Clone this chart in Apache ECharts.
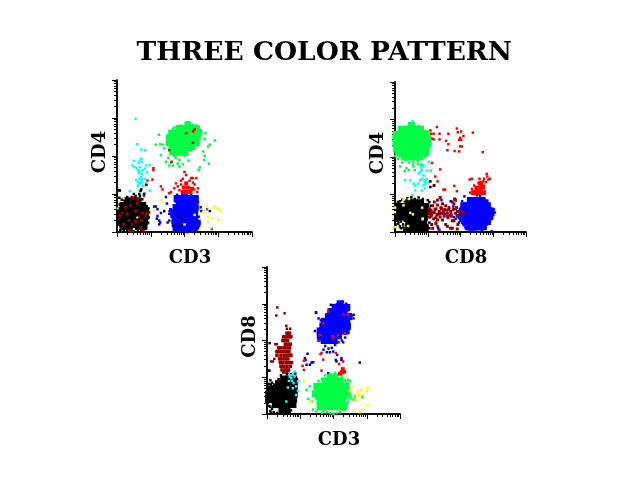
<!DOCTYPE html>
<html><head><meta charset="utf-8">
<style>html,body{margin:0;padding:0;background:#fff}#c{width:640px;height:480px}</style>
<script src="https://cdn.jsdelivr.net/npm/echarts@6/dist/echarts.min.js"></script>
</head><body><div id="c"></div>
<script>
// All values are log10 fluorescence (decades): [x, y]
const titleText="THREE COLOR PATTERN";
const p1BlackCore=[[.35,.15],[.5,.15],[.65,.15],[.2,.15],[.8,.15],[.25,.28],[.4,.28],[.55,.28],[.7,.28],[.12,.28],[.82,.28],[.2,.42],[.36,.42],[.5,.42],[.66,.42],[.76,.42],[.1,.42],[.85,.42],[.22,.56],[.38,.56],[.52,.56],[.68,.56],[.74,.56],[.12,.56],[.85,.56],[.32,.7],[.48,.7],[.62,.7],[.18,.7],[.76,.7],[.3,.82],[.5,.82],[.62,.82]];
const p1BlackEdge=[[.05,.6],[.08,.72],[.07,.9],[.06,.45],[.06,.3],[.1,.15],[.14,.85],[.2,.85],[.3,.92],[.44,.92],[.55,.95],[.68,.95],[.75,.86],[.8,.72],[.88,.68],[.93,.62],[.95,.52],[.94,.38],[.92,.24],[.85,.08],[.72,.05],[.62,.02],[.5,.01],[.4,.03],[.3,.05],[.2,.04],[.1,.06],[.03,.2],[.66,1.0],[.7,1.08],[.07,1.1],[.08,1.09],[.87,1.24],[.72,1.12],[.8,1.0],[.5,1.0],[1.87,.38],[1.7,.17],[1.4,.55],[1.88,.18]];
const p1DarkRed=[[.15,.5],[.25,.65],[.35,.3],[.45,.2],[.55,.55],[.65,.4],[.75,.5],[.85,.44],[.4,.7],[.6,.75],[.45,.04],[.38,.02],[.78,.02],[.62,.86],[.55,.28],[.3,.48],[.72,.3],[.08,.42],[.48,.9],[.9,.5],[.2,.2],[.7,.12]];
const p1YellowA=[[.6,.38],[.5,.08],[.2,.88],[.02,.62]];
const p1GreenCore=[[1.75,2.1],[1.9,2.1],[2,2.1],[1.65,2.12],[1.65,2.22],[1.8,2.22],[1.95,2.22],[2.08,2.22],[2.2,2.25],[1.6,2.35],[1.76,2.35],[1.92,2.35],[2.06,2.35],[2.2,2.35],[1.55,2.35],[2.35,2.35],[1.62,2.48],[1.8,2.48],[1.95,2.48],[2.1,2.48],[2.26,2.48],[1.55,2.48],[2.38,2.48],[1.75,2.6],[1.9,2.6],[2.05,2.6],[2.2,2.6],[2.32,2.6],[1.62,2.6],[2.42,2.62],[1.85,2.72],[1.95,2.72],[2.1,2.72],[2.25,2.72],[2.35,2.72],[2.1,2.82]];
const p1GreenEdge=[[1.5,2.45],[1.52,2.3],[1.55,2.2],[1.6,2.65],[1.65,2.7],[1.7,2.75],[1.8,2.78],[1.88,2.8],[2.1,2.88],[2.12,2.84],[2.25,2.82],[2.35,2.8],[2.42,2.75],[2.5,2.62],[2.45,2.55],[2.4,2.4],[2.38,2.28],[2.3,2.2],[2.2,2.15],[2.1,2.05],[2.0,2.0],[1.85,1.9],[1.75,1.95],[1.7,2.0],[1.6,2.05],[1.24,2.56],[1.15,2.3],[1.28,2.31],[1.35,2.3],[1.3,2.02],[1.45,1.85],[1.52,1.95],[1.6,1.82],[1.65,1.75],[1.85,1.72],[1.95,1.78],[2.12,1.88],[2.42,1.63],[2.45,1.7],[2.58,1.9],[2.6,2.0],[2.72,1.8],[2.7,2.25],[2.75,2.3],[2.9,2.41],[2.62,2.6],[2.55,2.12],[2.6,2.45],[1.55,1.75],[1.8,1.8],[1.4,2.2]];
const p1RedCore=[[1.95,1.05],[2.07,1.05],[2.18,1.05],[1.98,1.17],[2.1,1.17],[2.22,1.14],[2.05,1.28],[2.0,1.05]];
const p1RedEdge=[[1.85,1.1],[1.9,1.25],[1.9,1.35],[1.95,1.4],[2.05,1.5],[2.2,1.42],[2.25,1.42],[2.35,1.42],[2.3,1.25],[2.28,1.12],[2.4,1.15],[2.38,1.05],[2.15,1.35],[2.25,1.3],[2.0,1.58],[1.8,1.2],[1.75,1.28],[1.6,1.05],[1.7,1.15],[1.55,1.02],[1.08,1.68],[1.08,1.63],[1.05,1.38],[1.3,1.2],[1.35,1.12],[.8,.95],[.9,1.35],[2.05,2.6],[2.26,2.65],[2.25,2.35],[1.55,2.15],[1.62,1.85],[2.3,2.7]];
const p1BlueCore=[[1.85,.1],[2,.1],[2.15,.1],[1.75,.1],[2.28,.1],[1.8,.22],[1.95,.22],[2.1,.22],[2.25,.22],[1.72,.22],[2.38,.22],[1.72,.36],[1.88,.36],[2.02,.36],[2.16,.36],[2.3,.36],[1.68,.5],[1.84,.5],[2,.5],[2.14,.5],[2.3,.5],[1.75,.64],[1.9,.64],[2.05,.64],[2.2,.64],[2.32,.64],[1.85,.76],[2,.76],[2.15,.76],[2.28,.76],[1.9,.88],[2.05,.88],[2.2,.88],[1.78,.88],[2.32,.88],[2,.96]];
const p1BlueEdge=[[1.56,.55],[1.55,.48],[1.6,.6],[1.62,.4],[1.65,.25],[1.7,.2],[1.72,.12],[1.75,.3],[1.7,.7],[1.75,.8],[1.8,.92],[1.78,.98],[2,1],[2.2,.98],[2.35,.92],[2.4,.78],[2.48,.65],[2.5,.55],[2.42,.4],[2.4,.3],[2.35,.18],[2.4,.1],[2.35,.05],[2.2,.02],[2.08,0],[2,.02],[1.85,.03],[1.1,.67],[1.15,.67],[1.2,.6],[1.3,.5],[1.2,.42],[1.18,.35],[1.25,.3],[1.28,.25],[1.25,.2],[1.5,.25],[1.55,.3],[1.48,.75],[1.45,.92],[1.58,.6],[2.8,.08],[2.75,.55],[2.68,.6]];
const p1Cyan=[[.55,2.98],[.6,2.31],[.72,2.17],[.84,2.15],[.5,1.87],[.64,1.81],[.74,1.84],[.97,1.77],[.46,1.75],[.62,1.62],[.77,1.62],[.89,1.58],[.67,1.4],[.82,1.4],[.57,1.37],[.72,1.31],[.77,1.22],[.62,1.22],[.38,1.07],[.67,1.09],[.82,1.02],[.97,1.09],[.72,1.45],[.52,1.71],[.69,1.71],[.74,1.53],[.65,1.55],[.87,1.75],[.72,1.93],[.67,1.88],[.82,1.67],[.62,1.31],[.87,1.31],[.7,1.36],[.75,1.38],[.68,1.28],[.6,1.68],[.66,1.6]];
const p1YellowB=[[2.65,.67],[2.88,.67],[3,.61],[3.05,.58],[2.55,.52],[2.7,.39],[2.83,.36],[3,.33],[2.7,.26],[2.5,.14],[2.77,.1],[2.6,.56],[2.72,.61],[2.95,.63],[1.32,.83],[1.1,.59],[2.3,.45],[2,.2],[1.33,.83]];

const p2GreenCore=[[.3,2],[.45,2],[.6,2],[.75,2],[.15,2.1],[.3,2.1],[.45,2.1],[.6,2.1],[.75,2.1],[.9,2.1],[.05,2.23],[.14,2.23],[.3,2.23],[.45,2.23],[.6,2.23],[.75,2.23],[.88,2.23],[.95,2.23],[.03,2.36],[.1,2.36],[.26,2.36],[.42,2.36],[.58,2.36],[.74,2.36],[.9,2.36],[1,2.36],[.03,2.49],[.1,2.49],[.26,2.49],[.42,2.49],[.58,2.49],[.74,2.49],[.9,2.49],[1,2.49],[.04,2.6],[.18,2.62],[.34,2.62],[.5,2.62],[.66,2.62],[.8,2.62],[.95,2.62],[.2,2.74],[.36,2.74],[.5,2.74],[.64,2.74],[.78,2.74],[.5,2.84]];
const p2GreenEdge=[[0,2.5],[0,2.35],[0,2.2],[.02,2.1],[.05,2.62],[.08,2.66],[.2,2.72],[.28,2.76],[.42,2.86],[.5,2.9],[.6,2.83],[.72,2.82],[.85,2.72],[.95,2.66],[1,2.58],[1.05,2.45],[1.08,2.35],[1.05,2.2],[1,2.1],[.92,2],[.8,1.98],[.7,1.9],[.55,1.88],[.42,1.85],[.3,1.93],[.22,2],[.15,2.02],[.1,1.95],[.16,1.75],[.35,1.7],[.42,1.65],[.56,1.75],[.6,1.65],[.3,1.62],[.55,1.8],[.7,1.82],[0,2.02],[.22,1.85],[.8,1.8]];
const p2Cyan=[[.54,2.96],[.82,1.78],[.47,1.38],[.31,1.38],[.62,1.24],[.87,1.24],[.92,1.38],[1.03,1.33],[1.08,1.64],[.97,1.64],[.82,1.66],[.72,1.56],[.87,1.51],[.77,1.38],[.52,.98],[.62,1.11],[.82,1.11],[.92,1.16],[.87,1.78],[1.03,1.87],[1.03,2.06],[1.1,1.63],[.79,1.72],[.92,1.29],[.97,1.42],[.82,1.42],[.72,1.29],[.57,1.29],[.9,1.36],[.95,1.33],[.78,1.6]];
const p2RedEdge=[[1.08,2.71],[1.28,2.8],[1.36,2.62],[1.18,2.62],[1.13,2.49],[1.1,2.62],[1.36,2.47],[1.18,2.47],[1.63,2.62],[1.56,2.43],[1.63,2.34],[1.6,2.18],[1.89,2.76],[2.02,2.68],[1.92,2.66],[2.09,2.56],[1.99,2.51],[2.02,2.46],[1.96,2.46],[1.99,2.29],[2.04,2.28],[1.82,2.16],[1.96,2.15],[2.38,2.65],[2.68,2.13],[1.13,1.84],[1.38,1.67],[1.23,1.48],[1.3,1.35],[1.18,1.24],[1.48,1.13],[1.53,1.13],[1.81,1.23],[1.89,1.09],[2.3,1.05],[2.35,1.15],[2.42,1.24],[2.55,1.3],[2.7,1.35],[2.78,1.33],[2.85,1.4],[2.9,1.42],[2.82,1.48],[2.8,1.55],[2.35,1.42],[2.28,1.4],[2.58,1.42],[2.72,1.42]];
const p2RedCore=[[2.4,1.05],[2.5,1.05],[2.6,1.05],[2.7,1.05],[2.5,1.17],[2.6,1.17],[2.68,1.2],[2.62,1.3]];
const p2BlackCore=[[.42,.12],[.58,.12],[.72,.12],[.92,.12],[.42,.26],[.56,.26],[.72,.26],[.88,.26],[.1,.4],[.26,.4],[.42,.4],[.58,.4],[.74,.4],[.9,.4],[.1,.54],[.26,.54],[.42,.54],[.58,.54],[.74,.54],[.9,.54],[1,.54],[.14,.68],[.3,.68],[.46,.68],[.62,.68],[.78,.68],[.94,.68],[.42,.78],[.6,.78],[.78,.78]];
const p2BlackEdge=[[0,.6],[0,.45],[0,.35],[.02,.2],[.05,.75],[.1,.8],[.15,.82],[.22,.86],[.3,.82],[.38,.9],[.5,.92],[.6,.88],[.72,.92],[.85,.88],[1,.85],[1.05,.8],[1.1,.7],[1.1,.55],[1.08,.4],[1.05,.25],[.98,.15],[1.05,.1],[.92,.05],[.82,.02],[.6,.01],[.45,0],[.32,.1],[.25,.2],[.18,.28],[.1,.22],[.15,.15],[.25,.12],[.1,.28],[.04,.3],[.18,.1],[.28,.05],[0,.1],[.3,.3],[1.2,1.24],[1.08,1.35],[1.08,1.2]];
const p2Yellow=[[.26,.86],[.42,.88],[0,.65],[0,.53],[.47,.51],[.55,.47],[.85,.36],[.83,.65],[.4,.16],[.26,.71],[.01,.13],[.84,.34]];
const p2DarkRed=[[1.05,.4],[1.05,.5],[1.1,.58],[1.12,.45],[1.18,.35],[1.2,.52],[1.25,.62],[1.28,.45],[1.3,.72],[1.35,.55],[1.38,.4],[1.4,.65],[1.42,.5],[1.45,.75],[1.5,.42],[1.52,.6],[1.55,.7],[1.6,.5],[1.62,.38],[1.65,.65],[1.7,.55],[1.72,.42],[1.78,.6],[1.8,.75],[1.82,.88],[1.85,.5],[1.88,.65],[1.9,.42],[1.95,.55],[2.05,.55],[2.1,.5],[1.15,.7],[1.2,.8],[1.3,.85],[1.38,.92],[1.25,.22],[1.55,.2],[1.6,.15],[1.7,.1],[1.75,.1],[1.9,.08],[1.92,.2],[1.35,.05],[1.15,.1],[1.12,.2],[1.45,.32],[1.75,.3],[1.8,.3],[1.3,.32],[1.22,.6],[1.05,.62],[1.48,.55],[1.58,.58],[1.68,.45],[1.15,.52],[1.25,.38],[1.35,.48],[1.42,.62],[1.75,.8],[1.85,.85]];
const p2BlueCore=[[2.25,.14],[2.3,.14],[2.45,.14],[2.6,.14],[2.7,.14],[2.15,.28],[2.2,.28],[2.36,.28],[2.52,.28],[2.68,.28],[2.82,.28],[2.05,.42],[2.15,.42],[2.3,.42],[2.46,.42],[2.62,.42],[2.78,.42],[2.9,.42],[2.05,.56],[2.12,.56],[2.28,.56],[2.44,.56],[2.6,.56],[2.76,.56],[2.85,.56],[2.92,.56],[2.1,.7],[2.2,.7],[2.36,.7],[2.52,.7],[2.68,.7],[2.82,.7],[2.3,.84],[2.4,.84],[2.55,.84],[2.66,.84],[2.75,.78]];
const p2BlueEdge=[[2,.55],[2,.45],[2.03,.65],[1.98,.38],[2.05,.25],[2.1,.18],[2.15,.12],[2.2,.08],[2.3,.04],[2.4,.02],[2.5,.01],[2.65,.05],[2.72,.1],[2.8,.2],[2.9,.3],[2.95,.35],[3,.45],[3.05,.52],[3.02,.6],[2.95,.55],[2.9,.66],[2.85,.75],[2.75,.82],[2.72,.88],[2.6,.95],[2.5,.98],[2.35,.9],[2.25,.88],[2.12,.95],[2.05,.82],[1.3,.48],[1.35,.55],[1.45,.5],[1.52,.48],[1.6,.42],[1.65,.6],[1.72,.48],[1.78,.68],[1.85,.62],[1.92,.45],[1.95,.38],[1.9,.55],[1.8,.4],[1.25,.25],[1.3,.15],[1.32,.1],[1.7,.82],[1.85,.35],[1.42,.85],[2.95,.02],[2,.3],[1.95,.25]];

const p3BlackCore=[[.45,.12],[.6,.12],[.25,.26],[.4,.26],[.55,.26],[.7,.26],[.78,.26],[.05,.4],[.1,.4],[.25,.4],[.4,.4],[.55,.4],[.68,.4],[.8,.4],[.05,.54],[.1,.54],[.25,.54],[.4,.54],[.55,.54],[.7,.54],[.82,.54],[.1,.68],[.2,.68],[.35,.68],[.5,.68],[.65,.68],[.72,.68],[.82,.68],[.35,.82],[.4,.82],[.55,.82],[.7,.82],[.82,.82],[.5,.95],[.65,.95],[.8,.95]];
const p3BlackEdge=[[0,.7],[0,.55],[0,.4],[.02,.3],[.05,.22],[.1,.2],[.15,.14],[.2,.05],[.1,.08],[.12,.03],[.3,.03],[.4,.02],[.55,0],[.68,.02],[.72,.1],[.72,.22],[.8,.3],[.82,.5],[.8,.65],[.88,.8],[.9,.95],[.85,1.1],[.72,1.08],[.6,1.08],[.42,1.05],[.35,.95],[.28,.88],[.15,.85],[.05,.82],[.1,.92],[.12,.8],[.22,.8],[.32,.78],[.08,1.93],[.05,1.18],[1.34,1.4],[1.92,2.97]];
const p3DarkRedColumn=[[.6,2.2],[.68,2.2],[.5,2.1],[.58,2.1],[.66,2.1],[.72,2.1],[.48,2],[.55,2],[.62,2],[.55,1.9],[.62,1.9],[.7,1.9],[.35,1.8],[.42,1.8],[.52,1.8],[.6,1.8],[.68,1.8],[.32,1.7],[.4,1.7],[.5,1.7],[.58,1.7],[.66,1.7],[.3,1.6],[.42,1.6],[.52,1.6],[.6,1.6],[.68,1.6],[.72,1.6],[.38,1.5],[.46,1.5],[.55,1.5],[.63,1.5],[.4,1.4],[.48,1.4],[.58,1.4],[.66,1.4],[.74,1.4],[.42,1.3],[.5,1.3],[.6,1.3],[.7,1.3],[.45,1.2],[.55,1.2],[.65,1.2],[.5,1.14],[.6,1.14]];
const p3DarkRedFew=[[.31,2.9],[.28,2.68],[.53,2.74],[.58,2.4],[.6,2.32],[.7,2.32],[.12,1.43],[.18,1.43],[.22,1.5],[.28,1.7],[.25,1.9],[.3,1.9],[.08,1.18]];
const p3Cyan=[[.78,1.11],[.83,1.02],[.93,.89],[.88,.75],[.93,.63],[.73,.98],[.66,.9],[.8,.84],[.63,.72],[.78,.7],[.88,.52],[.58,.34],[.68,1.02],[.83,1.16],[.75,.9],[.72,1.05]];
const p3GreenCore=[[1.6,.2],[1.75,.2],[1.9,.2],[2.05,.2],[2.2,.2],[2.32,.22],[1.62,.34],[1.78,.34],[1.94,.34],[2.1,.34],[2.26,.34],[1.55,.48],[1.7,.48],[1.86,.48],[2.02,.48],[2.18,.48],[2.32,.48],[1.45,.55],[2.42,.55],[1.55,.62],[1.7,.62],[1.86,.62],[2.02,.62],[2.18,.62],[2.32,.62],[1.5,.75],[1.62,.76],[1.78,.76],[1.94,.76],[2.1,.76],[2.26,.76],[2.38,.75],[1.75,.9],[1.9,.9],[2.05,.9],[2.2,.9],[1.9,1],[2.05,1]];
const p3GreenEdge=[[1.45,.7],[1.45,.6],[1.47,.5],[1.5,.4],[1.52,.3],[1.58,.22],[1.62,.15],[1.7,.08],[1.65,.03],[1.8,.05],[1.9,.02],[2,0],[2.1,.03],[2.2,.05],[2.3,.1],[2.38,.2],[2.42,.3],[2.48,.45],[2.5,.55],[2.45,.72],[2.4,.85],[2.35,.92],[2.25,1.02],[2.15,1.08],[2.05,1.12],[1.9,1.08],[1.75,1.05],[1.65,.95],[1.55,.9],[1.48,.8],[1.29,.75],[1.19,.66],[1.24,.41],[1.34,.34],[1.44,.48],[1.39,.12],[2.54,.43],[2.64,.48],[2.61,.39],[2.87,.46],[2.34,.12],[2.44,.34],[1.49,.07],[2.49,.89],[2.44,.93]];
const p3BlueCore=[[1.72,2],[1.88,2],[2.02,2],[1.6,2.13],[1.7,2.13],[1.85,2.13],[2,2.13],[2.15,2.13],[1.6,2.26],[1.68,2.26],[1.84,2.26],[2,2.26],[2.16,2.26],[2.26,2.26],[2.38,2.26],[1.68,2.39],[1.75,2.39],[1.9,2.39],[2.06,2.39],[2.22,2.39],[2.32,2.39],[2.42,2.39],[1.72,2.52],[1.82,2.52],[1.98,2.52],[2.14,2.52],[2.3,2.52],[2.4,2.52],[1.85,2.65],[1.95,2.65],[2.1,2.65],[2.26,2.65],[2.35,2.65],[2.45,2.65],[1.92,2.78],[2.02,2.78],[2.17,2.78],[2.32,2.78],[2.05,2.9],[2.15,2.9],[2.28,2.9],[2.4,2.9],[2.2,3]];
const p3BlueEdge=[[1.55,2.2],[1.55,2.05],[1.58,2],[1.6,2.3],[1.65,2.42],[1.62,2.55],[1.48,2.75],[1.55,2.6],[1.7,2.55],[1.78,2.65],[1.85,2.72],[1.9,2.85],[2,2.92],[2.1,2.98],[2.2,3.03],[2.28,3.05],[2.38,3],[2.45,2.95],[2.42,2.82],[2.5,2.72],[2.55,2.68],[2.6,2.6],[2.45,2.58],[2.42,2.45],[2.45,2.3],[2.35,2.18],[2.35,2.08],[2.25,2],[2.15,1.95],[2.05,1.88],[1.95,1.8],[1.85,1.78],[1.75,1.85],[1.7,1.75],[1.8,1.68],[2.11,1.61],[2.07,1.47],[2.24,1.47],[2.09,1.43],[1.84,1.11],[2.79,1.4],[1.22,1.64],[1.14,1.52],[1.19,1.34],[1.29,1.34],[1.39,1.41],[1.16,1.47],[2.29,1.95],[2.36,2.2],[2.49,2.7],[2.61,2.7],[1.47,2.77],[1.44,2.26],[1.89,1.68],[1.99,1.7],[2.24,1.52]];
const p3RedCore=[[2.25,1.13],[2.32,1.15],[2.28,1.22],[2.2,1.1]];
const p3RedEdge=[[1.64,1.66],[1.61,1.63],[1.97,2.12],[1.69,2.47],[1.59,2.15],[1.84,2.79],[2.29,2.71],[2.44,2.7],[2.34,2.2],[2.14,2.15],[1.99,2.06],[2.07,1.66],[2.29,1.43],[2.17,1.36],[1.69,1.48],[1.64,1.18],[1.07,1.31],[1.11,1.2],[1.11,1.45],[1.54,1.99]];
const p3Yellow=[[1.11,.89],[1.32,.33],[2.39,1.02],[2.57,.75],[2.72,.62],[2.84,.66],[3.03,.71],[3,.62],[2.69,.52],[2.67,.39],[2.77,.51],[2.89,.52],[3.02,.24],[2.79,.05],[2.84,.07],[2.49,.62]];

const BLACK="#000000",DARK="#990000",RED="#ff0000",BLUE="#0000ff",GREEN="#00ff44",CYAN="#00ffff",YEL="#ffff00";
const panels=[
 {box:[117,80,135,152],x:"CD3",y:"CD4",layers:[
  [p1BlueCore,BLUE,7],[p1BlueEdge,BLUE,2.5],[p1RedCore,RED,4],[p1GreenCore,GREEN,7],[p1GreenEdge,GREEN,2.5],[p1RedEdge,RED,2.5],[p1Cyan,CYAN,2.5],
  [p1BlackCore,BLACK,7],[p1BlackEdge,BLACK,2.5],[p1DarkRed,DARK,3],[p1YellowA,YEL,2],[p1YellowB,YEL,2.5]]},
 {box:[395,82,131,150],x:"CD8",y:"CD4",layers:[
  [p2BlueCore,BLUE,7],[p2BlueEdge,BLUE,2.5],[p2RedCore,RED,5],[p2RedEdge,RED,2.5],[p2Cyan,CYAN,2.5],[p2GreenCore,GREEN,7],[p2GreenEdge,GREEN,2.5],
  [p2BlackCore,BLACK,7],[p2BlackEdge,BLACK,2.5],[p2DarkRed,DARK,3],[p2Yellow,YEL,2.5]]},
 {box:[267,267,133,147],x:"CD3",y:"CD8",layers:[
  [p3DarkRedColumn,DARK,3.5],[p3DarkRedFew,DARK,2.5],[p3BlackCore,BLACK,7],[p3BlackEdge,BLACK,2.5],[p3Cyan,CYAN,2.5],
  [p3BlueCore,BLUE,7],[p3BlueEdge,BLUE,2.5],[p3GreenCore,GREEN,7],[p3GreenEdge,GREEN,2.5],[p3RedCore,RED,4],[p3RedEdge,RED,2.5],[p3Yellow,YEL,2.5]]}
];
const decadeTicks=[1,10,100,1000,10000];
const minorTicks=[];
for(const d of [1,10,100,1000])for(let m=2;m<10;m++)minorTicks.push(m*d);
const labelFont={fontFamily:"DejaVu Serif",fontWeight:"bold",fontSize:18,color:"#000"};
const grid=[],xAxis=[],yAxis=[],series=[];
const line={show:true,onZero:false,lineStyle:{color:"#000",width:1.5}};
panels.forEach((p,i)=>{
 grid.push({left:p.box[0],top:p.box[1],width:p.box[2],height:p.box[3]});
 const base={type:"log",logBase:10,min:1,max:10000,gridIndex:i,splitLine:{show:false},axisLabel:{show:false},axisLine:line,silent:true};
 const xIdx=xAxis.length,yIdx=yAxis.length;
 xAxis.push({...base,position:"bottom",name:p.x,nameLocation:"middle",nameGap:17,nameTextStyle:{...labelFont,padding:[0,0,0,11]},axisTick:{show:true,length:5,lineStyle:{color:"#000",width:1},customValues:decadeTicks}});
 xAxis.push({...base,position:"bottom",axisTick:{show:true,length:3,lineStyle:{color:"#000",width:1},customValues:minorTicks}});
 yAxis.push({...base,position:"left",name:p.y,nameLocation:"middle",nameGap:8,nameTextStyle:{...labelFont,padding:[0,0,0,8]},axisTick:{show:true,length:5,lineStyle:{color:"#000",width:1},customValues:decadeTicks}});
 yAxis.push({...base,position:"left",axisTick:{show:true,length:3,lineStyle:{color:"#000",width:1},customValues:minorTicks}});
 p.layers.forEach(([d,c,s])=>series.push({type:"scatter",xAxisIndex:xIdx,yAxisIndex:yIdx,symbol:"rect",symbolSize:s,silent:true,animation:false,clip:false,large:false,
   itemStyle:{color:c,opacity:1},data:d.map(v=>[Math.pow(10,v[0]),Math.pow(10,v[1])])}));
});
const chart=echarts.init(document.getElementById("c"),null,{renderer:"canvas"});
chart.setOption({animation:false,backgroundColor:"#fff",
 title:{text:titleText,left:131.5,top:35,textStyle:{fontFamily:"DejaVu Serif",fontWeight:"bold",fontSize:26.5,color:"#000"}},
 grid,xAxis,yAxis,series});
</script></body></html>
